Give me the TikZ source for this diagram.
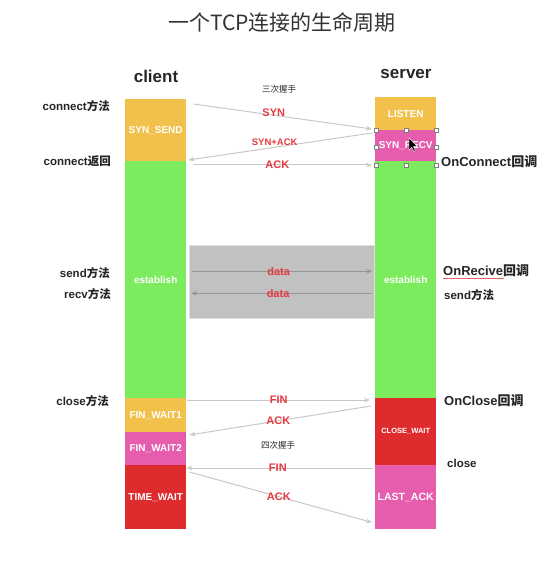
\documentclass[tikz,border=0pt]{standalone}
\usepackage{fontspec}
\setmainfont{Liberation Sans}
\newfontfamily\cjk{Noto Sans CJK SC}
\newcommand{\zh}[1]{{\cjk #1}}
\usepackage{xcolor}
\usetikzlibrary{arrows.meta, positioning, calc}

\definecolor{stateorange}{HTML}{F2C14B}
\definecolor{stategreen}{HTML}{7CEB5E}
\definecolor{statepink}{HTML}{E65DAE}
\definecolor{statered}{HTML}{DE2B2E}
\definecolor{msgred}{HTML}{E53A40}
\definecolor{linegray}{HTML}{C8C8C8}
\definecolor{datagray}{HTML}{959595}
\definecolor{boxgray}{HTML}{C1C1C1}
\definecolor{labelblack}{HTML}{262626}

\tikzset{
  statebox/.style={rectangle, inner sep=0pt, minimum width=61pt, anchor=north west,
    text=white, font=\bfseries\fontsize{10}{12}\selectfont},
  side/.style={font=\bfseries\fontsize{17}{20}\selectfont, text=labelblack},
  apileft/.style={anchor=east, inner sep=0pt, font=\bfseries\fontsize{11.5}{13}\selectfont, text=labelblack},
  apiright/.style={anchor=west, inner sep=0pt, font=\bfseries\fontsize{13}{15}\selectfont, text=labelblack},
  msg/.style={draw=linegray, line width=1pt, ->},
  msglabel/.style={text=msgred, inner sep=0pt, font=\bfseries\fontsize{11}{13}\selectfont},
  note/.style={text=labelblack, font=\fontsize{8.5}{10}\selectfont},
  handle/.style={draw=gray, fill=white, line width=0.4pt, minimum size=4.5pt, inner sep=0pt}
}

\begin{document}
\begin{tikzpicture}[x=1pt, y=-1pt, >={Stealth[length=6pt, width=4.5pt]}]
  \useasboundingbox[fill=white] (0,0) rectangle (552,561);

  \node[font=\fontsize{21}{24}\selectfont, text=black!80] (title) at (282,22) {\zh{一个TCP连接的生命周期}};
  \node[side] (client) at (156,76) {client};
  \node[side] (server) at (406,74) {server};

  % client side
  \node[statebox, fill=stateorange, minimum height=62pt] (synsend) at (125,99) {SYN\_SEND};
  \node[statebox, fill=stategreen, minimum height=237pt] (cest) at (125,161) {establish};
  \node[statebox, fill=stateorange, minimum height=34pt] (finwaita) at (125,398) {FIN\_WAIT1};
  \node[statebox, fill=statepink, minimum height=33pt] (finwaitb) at (125,432) {FIN\_WAIT2};
  \node[statebox, fill=statered, minimum height=64pt] (timewait) at (125,465) {TIME\_WAIT};

  % server side
  \node[statebox, fill=stateorange, minimum height=33pt] (listen) at (375,97) {LISTEN};
  \node[statebox, fill=statepink, minimum height=31pt] (synrecv) at (375,130) {SYN\_RECV};
  \node[statebox, fill=stategreen, minimum height=237pt] (sest) at (375,161) {establish};
  \node[statebox, fill=statered, minimum height=67pt, font=\bfseries\fontsize{7.5}{9}\selectfont] (closewait) at (375,398) {CLOSE\_WAIT};
  \node[statebox, fill=statepink, minimum height=64pt, font=\bfseries\fontsize{10.5}{12}\selectfont] (lastack) at (375,465) {LAST\_ACK};

  % api calls
  \node[apileft] (connect) at (110,106) {connect\zh{方法}};
  \node[apileft] (connected) at (111,161) {connect\zh{返回}};
  \node[apileft] (send) at (110,273) {send\zh{方法}};
  \node[apileft] (recv) at (111,294) {recv\zh{方法}};
  \node[apileft] (closecall) at (109,401) {close\zh{方法}};
  \node[apiright] (onconnect) at (441,162) {OnConnect\zh{回调}};
  \node[apiright] (onrecv) at (443,271) {OnRecive\zh{回调}};
  \node[apiright, font=\bfseries\fontsize{11.5}{13}\selectfont] (ssend) at (444,295) {send\zh{方法}};
  \node[apiright] (onclose) at (444,401) {OnClose\zh{回调}};
  \node[apiright, font=\bfseries\fontsize{11.5}{13}\selectfont] (sclose) at (447,463) {close};
  \draw[msgred!80, line width=0.5pt] ($(onrecv.base west)+(0,2.5)$) -- ++(61,0);

  % three-way handshake
  \node[note] (three) at (279,89) {\zh{三次握手}};
  \draw[msg] ($(synsend.north east)+(7,5)$) -- ($(synrecv.north west)+(-3,-1)$)
    node[msglabel, pos=0.45, yshift=3pt] {SYN};
  \draw[msg] ($(synrecv.north west)+(-3,3)$) -- ($(cest.north east)+(2,-1)$)
    node[msglabel, pos=0.53, yshift=5pt, font=\bfseries\fontsize{9.5}{11}\selectfont] {SYN+ACK};
  \draw[msg] ($(cest.north east)+(7,4)$) -- ($(sest.north west)+(-3,4)$)
    node[msglabel, pos=0.47] {ACK};

  % data transfer
  \node[rectangle, fill=boxgray, draw=black!12, minimum width=185pt, minimum height=73pt, anchor=north west] (databox) at (189,245) {};
  \draw[datagray, line width=1.2pt, ->] ($(databox.west)+(3,-10.5)$) -- ($(databox.east)+(-2,-10.5)$)
    node[msglabel, pos=0.48] {data};
  \draw[datagray, line width=1.2pt, ->] ($(databox.east)+(-2,11.5)$) -- ($(databox.west)+(2,11.5)$)
    node[msglabel, pos=0.52] {data};

  % four-way handshake
  \node[note] (four) at (278,445) {\zh{四次握手}};
  \draw[msg] ($(finwaita.north east)+(1,2)$) -- ($(closewait.north west)+(-5,2)$)
    node[msglabel, midway] {FIN};
  \draw[msg] ($(closewait.north west)+(-4,8)$) -- ($(finwaitb.north east)+(3,3)$)
    node[msglabel, pos=0.51] {ACK};
  \draw[msg] ($(lastack.north west)+(-2,3)$) -- ($(timewait.north east)+(0,3)$)
    node[msglabel, pos=0.51] {FIN};
  \draw[msg] ($(timewait.north east)+(3,7)$) -- ($(lastack.south west)+(-3,-7)$)
    node[msglabel, pos=0.49] {ACK};

  % selection handles and pointer on SYN_RECV
  \node[handle] (hnw) at (376,130) {};
  \node[handle] (hn) at (406,130) {};
  \node[handle] (hne) at (436,130) {};
  \node[handle] (hw) at (376,147) {};
  \node[handle] (he) at (436,147) {};
  \node[handle] (hsw) at (376,165) {};
  \node[handle] (hs) at (406,165) {};
  \node[handle] (hse) at (436,165) {};
  \draw[fill=black, draw=white, line width=0.4pt, shift={(409,138)}]
    (0,0) -- (0,12) -- (2.8,9.3) -- (4.6,13.4) -- (6.3,12.6) -- (4.5,8.6) -- (8.3,8.6) -- cycle;
\end{tikzpicture}
\end{document}
